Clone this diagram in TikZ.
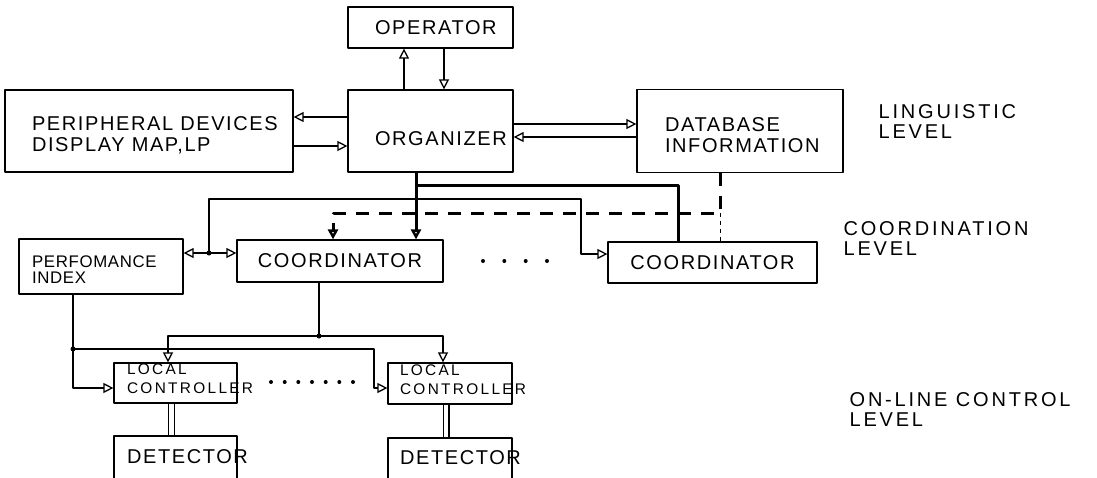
\documentclass[tikz,border=0pt]{standalone}
\usepackage{fontspec}
\setmainfont{Liberation Sans}
\newfontfamily\plotfont[LetterSpace=8]{Liberation Sans}
\newfontfamily\plotmid[LetterSpace=4]{Liberation Sans}
\newfontfamily\plotsmall[LetterSpace=15]{Liberation Sans}
\newfontfamily\plotwide[LetterSpace=14]{Liberation Sans}
\usetikzlibrary{arrows.meta}

\tikzset{
  box/.style={draw,line width=0.6pt,inner sep=0pt,align=left,
    font=\plotfont\fontsize{10}{10.5}\selectfont},
  txt/.style={anchor=west,inner sep=0pt,align=left},
  bigtxt/.style={txt,font=\plotfont\fontsize{10}{10.5}\selectfont},
  smalltxt/.style={txt,font=\plotsmall\fontsize{7.7}{9.5}\selectfont},
  level/.style={anchor=west,inner sep=0pt,align=left,
    font=\plotwide\fontsize{10}{10}\selectfont},
  arr/.style={-{Triangle[open,length=5pt,width=5pt]}},
  heavy/.style={line width=1.5pt},
  dashline/.style={line width=1.5pt,dash pattern=on 6.5pt off 5pt},
  link/.style={double,line width=0.6pt,double distance=2.3pt},
  dot/.style={circle,fill,inner sep=0pt,minimum size=2.5pt}
}

\begin{document}
\begin{tikzpicture}[x=0.5pt,y=-0.5pt,line width=0.65pt,line join=round]
\useasboundingbox (0,0) rectangle (1097,477);
\clip (0,0) rectangle (1097,477);

% linguistic level
\node[box,minimum width=82.5pt,minimum height=20.5pt,
  label={[bigtxt,xshift=13.5pt]west:OPERATOR}] (oper) at (430.5,27.5) {};
\node[box,minimum width=82.5pt,minimum height=41pt,
  label={[bigtxt,xshift=13.5pt,yshift=-3.75pt]west:ORGANIZER}] (org) at (430.5,131) {};
\node[box,minimum width=144pt,minimum height=41pt,
  label={[bigtxt,xshift=13.5pt,yshift=-2pt]west:PERIPHERAL DEVICES\\DISPLAY MAP,LP}] (periph) at (149,131) {};
\node[box,minimum width=103pt,minimum height=41.5pt,
  label={[bigtxt,xshift=14pt,yshift=-2pt]west:DATABASE\\INFORMATION}] (db) at (740,131) {};

% coordination level
\node[box,minimum width=82pt,minimum height=27.5pt,
  label={[txt,font=\plotmid\fontsize{8.4}{8.2}\selectfont,xshift=6.5pt,yshift=-1.5pt]west:PERFOMANCE\\INDEX}]
  (perf) at (101,266.5) {};
\node[box,minimum width=103pt,minimum height=21pt] (coA) at (340,261) {COORDINATOR};
\node[box,minimum width=104.5pt,minimum height=20.5pt] (coB) at (712.5,262.5) {COORDINATOR};
\foreach \x in {483,504.3,525.7,547} \fill (\x,261) circle (1pt);

% on-line control level
\node[box,minimum width=61.5pt,minimum height=20pt,
  label={[smalltxt,xshift=6.5pt,yshift=2pt]west:LOCAL\\CONTROLLER}] (lcA) at (175.5,383) {};
\node[box,minimum width=62pt,minimum height=20.5pt,
  label={[smalltxt,xshift=6pt,yshift=2pt]west:LOCAL\\CONTROLLER}] (lcB) at (450,383.5) {};
\foreach \x in {271,284.7,298.3,312,325.7,339.3,353} \fill (\x,382) circle (1pt);
\node[box,minimum width=61.5pt,minimum height=22pt,
  label={[bigtxt,xshift=6.5pt,yshift=0.5pt]west:DETECTOR}] (detA) at (175.5,458) {};
\node[box,minimum width=62pt,minimum height=21pt,
  label={[bigtxt,xshift=6pt,yshift=0.5pt]west:DETECTOR}] (detB) at (450,459) {};

% level names
\node[level] (lvlA) at (878,122) {LINGUISTIC\\LEVEL};
\node[level] (lvlB) at (843,238.5) {COORDINATION\\LEVEL};
\node[level] (lvlC) at (849,410) {ON-LINE CONTROL\\LEVEL};

% organizer links
\draw[arr] ([xshift=-13.25pt]org.north) -- ([xshift=-13.25pt]oper.south);
\draw[arr] ([xshift=6.75pt]oper.south) -- ([xshift=6.75pt]org.north);
\draw[arr] ([yshift=7pt]org.west) -- ([yshift=7pt]periph.east);
\draw[arr] ([yshift=-7.5pt]periph.east) -- ([yshift=-7.5pt]org.west);
\draw[arr] ([yshift=3.5pt]org.east) -- ([yshift=3.5pt]db.west);
\draw[arr] ([yshift=-3pt]db.west) -- ([yshift=-3pt]org.east);

% organizer down to the coordinators
\coordinate (orgj) at (416,185);
\draw[heavy,arr] ([xshift=-7.25pt]org.south) -- ([xshift=38pt]coA.north);
\draw[heavy] (orgj) -| ([xshift=-17.25pt]coB.north);

% database down to the coordinators
\coordinate (dbj) at (720,213);
\draw[dashline,arr] ([xshift=-10pt]db.south) -- (dbj) -| ([xshift=-3.5pt]coA.north);
\draw[line width=0.5pt,dash pattern=on 2pt off 2pt] (dbj) -- ([xshift=3.75pt]coB.north);

% performance index loop
\coordinate (pj) at (209,253);
\draw[arr] (pj) -- (perf.east |- pj);
\draw[arr] (pj) -- (coA.west |- pj);
\draw[arr] (pj) |- (581,199) |- ([yshift=4.25pt]coB.west);
\node[dot] at (pj) {};

% coordinator to local controllers
\coordinate (cj) at (319,336);
\draw ([xshift=-10.5pt]coA.south) -- (cj);
\draw[arr] (cj) -| ([xshift=-3.75pt]lcA.north);
\draw[arr] (cj) -| ([xshift=-3.5pt]lcB.north);
\node[dot] at (cj) {};

% performance index to local controllers
\coordinate (pij) at (73,349);
\draw ([xshift=-14pt]perf.south) -- (pij);
\draw[arr] (pij) |- ([yshift=-2.5pt]lcA.west);
\draw[arr] (pij) -| (374,388) -- ([yshift=-2.25pt]lcB.west);
\node[dot] at (pij) {};

% detectors
\draw[link] ([xshift=-2pt]lcA.south) -- ([xshift=-2pt]detA.north);
\draw[link] ([xshift=-2pt]lcB.south) -- ([xshift=-2pt]detB.north);
\end{tikzpicture}
\end{document}
